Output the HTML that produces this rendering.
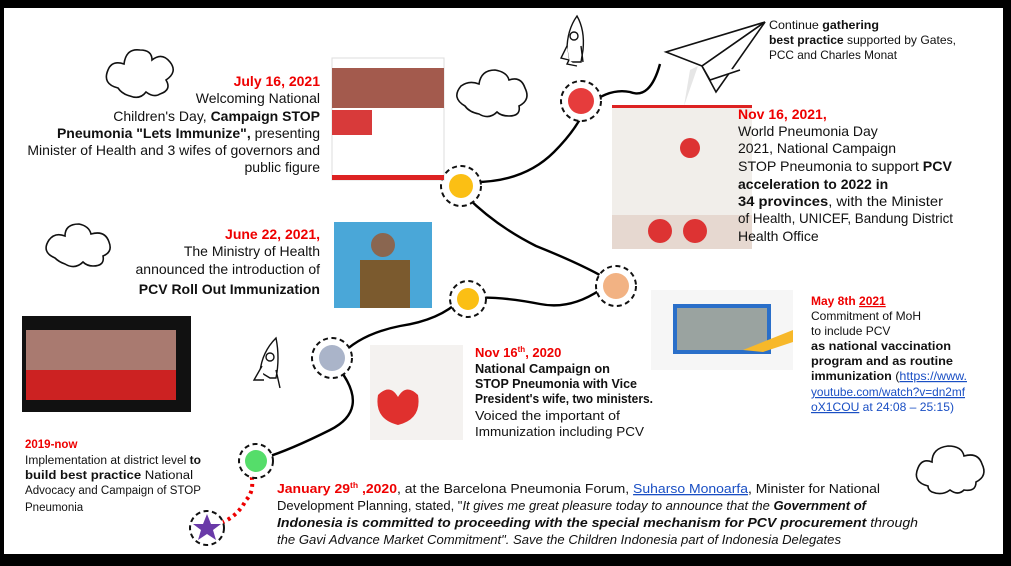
<!DOCTYPE html>
<html><head><meta charset="utf-8"><style>
html,body{margin:0;padding:0;background:#000;}
svg{display:block}
text{font-family:"Liberation Sans",sans-serif;}
</style></head><body>
<svg width="1011" height="566" viewBox="0 0 1011 566" xmlns="http://www.w3.org/2000/svg">
<rect x="0" y="0" width="1011" height="566" fill="#000"/>
<rect x="4" y="8" width="999" height="546" fill="#fff"/>

<!-- clouds -->
<g fill="#fff" stroke="#111" stroke-width="1.6">
<path d="M118 88 q-16 -4 -10 -18 q4 -10 16 -6 q2 -16 16 -14 q12 0 12 10 q10 -8 18 2 q8 10 -4 18 q6 10 -6 14 q-6 4 -14 -2 q-6 8 -16 4 q-8 -2 -12 -8z"/>
<path d="M465 106 q-14 -8 -4 -20 q8 -6 18 -2 q2 -14 16 -14 q12 2 14 10 q12 -4 16 8 q6 12 -6 18 q2 10 -10 10 q-8 0 -12 -4 q-8 8 -18 2 q-10 -2 -14 -8z"/>
<path d="M55 258 q-14 -6 -6 -18 q6 -8 16 -4 q0 -12 14 -12 q10 2 12 10 q14 -4 18 8 q4 10 -6 14 q2 10 -10 10 q-6 0 -10 -4 q-8 8 -18 2 q-6 -2 -10 -6z"/>
<path d="M928 486 q-16 -4 -10 -18 q4 -10 14 -6 q0 -14 16 -16 q14 0 16 10 q14 -4 18 8 q6 12 -6 18 q0 10 -12 8 q-6 6 -14 0 q-8 6 -18 2 q-4 -2 -4 -6z"/>
</g>

<!-- rockets -->
<g fill="#fff" stroke="#111" stroke-width="1.4">
<path d="M577 16 q-10 14 -10 34 l2 12 l12 0 l2 -12 q2 -20 -6 -34z"/>
<circle cx="574" cy="36" r="4"/>
<path d="M567 46 l-6 12 l8 2 M581 46 l2 16 M569 60 l-2 4 l10 2"/>
<path d="M276 338 q-14 14 -16 34 l10 6 l6 0 q4 -20 0 -40z"/>
<circle cx="270" cy="357" r="4"/>
<path d="M262 366 l-8 14 l10 0 M276 370 l4 18"/>
</g>

<!-- paper plane -->
<g fill="#fff" stroke="#111" stroke-width="1.6">
<path d="M765 22 L666 52 L702 66 Z"/>
<path d="M765 22 L702 66 L716 92 Z"/>
<path d="M702 66 L710 80 L740 70"/>
</g>
<path d="M690 70 l8 -4 l-14 40 z" fill="#e6e6e6"/>

<!-- path -->
<g fill="none" stroke="#000" stroke-width="2.4">
<path d="M660 64 q-10 36 -30 28 q-20 -4 -40 12"/>
<path d="M584 112 q-10 20 -30 40 q-30 30 -80 30"/>
<path d="M466 196 q30 30 70 50 q50 20 76 36"/>
<path d="M600 290 q-30 20 -60 14 q-40 -8 -70 -6"/>
<path d="M460 300 q-20 20 -60 26 q-40 8 -60 30"/>
<path d="M340 370 q30 40 -10 60 q-40 20 -66 28"/>
</g>
<path d="M250 470 q6 20 -4 30 q-10 20 -34 26" fill="none" stroke="#e00" stroke-width="4" stroke-dasharray="3 4"/>

<!-- nodes -->
<g stroke="#111" stroke-width="2" stroke-dasharray="5 3.5">
<circle cx="581" cy="101" r="20" fill="#fff"/><circle cx="461" cy="186" r="20" fill="#fff"/>
<circle cx="468" cy="299" r="18" fill="#fff"/><circle cx="616" cy="286" r="20" fill="#fff"/>
<circle cx="332" cy="358" r="20" fill="#fff"/><circle cx="256" cy="461" r="17" fill="#fff"/>
<circle cx="207" cy="528" r="17" fill="#fff"/>
</g>
<circle cx="581" cy="101" r="13" fill="#e63c3c"/>
<circle cx="461" cy="186" r="12" fill="#fbbf14"/>
<circle cx="468" cy="299" r="11" fill="#fbbf14"/>
<circle cx="616" cy="286" r="13" fill="#f2b283"/>
<circle cx="332" cy="358" r="13" fill="#aab4c9"/>
<circle cx="256" cy="461" r="11" fill="#55dd6a"/>
<polygon points="207,514 211,524 221,524 213,530 216,540 207,534 198,540 201,530 193,524 203,524" fill="#6a3aa8"/>

<!-- images -->
<rect x="332" y="58" width="112" height="122" fill="#fff" stroke="#ddd"/>
<rect x="332" y="68" width="112" height="40" fill="#a35a4d"/>
<rect x="332" y="110" width="40" height="25" fill="#d83a3a"/>
<rect x="332" y="175" width="112" height="5" fill="#d22"/>
<rect x="612" y="105" width="140" height="144" fill="#f1eeea"/>
<rect x="612" y="105" width="140" height="3" fill="#d22"/>
<rect x="612" y="215" width="140" height="34" fill="#e6d8d0"/>
<circle cx="690" cy="148" r="10" fill="#d33"/>
<circle cx="660" cy="231" r="12" fill="#d33"/><circle cx="695" cy="231" r="12" fill="#d33"/>
<rect x="334" y="222" width="98" height="86" fill="#4aa7d8"/>
<rect x="360" y="260" width="50" height="48" fill="#7b5a2e"/>
<circle cx="383" cy="245" r="12" fill="#8a6650"/>
<rect x="651" y="290" width="142" height="80" fill="#f6f6f6"/>
<rect x="673" y="304" width="98" height="50" fill="#2a6fc9"/>
<rect x="677" y="308" width="90" height="42" fill="#9aa3a0"/>
<path d="M743 350 l50 -20 l0 12 l-30 10z" fill="#f7b82a"/>
<rect x="22" y="316" width="169" height="96" fill="#111"/>
<rect x="26" y="330" width="150" height="70" fill="#a97a70"/>
<rect x="26" y="370" width="150" height="30" fill="#c22"/>
<rect x="370" y="345" width="93" height="95" fill="#f4f2f0"/>
<path d="M378 395 q12 -12 20 2 q8 -14 20 -2 q4 24 -20 30 q-24 -6 -20 -30z" fill="#e0302e"/>

<!-- texts -->
<g font-size="12" fill="#111">
<text x="769" y="29" textLength="110" lengthAdjust="spacingAndGlyphs">Continue <tspan font-weight="bold">gathering</tspan></text>
<text x="769" y="44" textLength="187" lengthAdjust="spacingAndGlyphs"><tspan font-weight="bold">best practice</tspan> supported by Gates,</text>
<text x="769" y="59" textLength="128" lengthAdjust="spacingAndGlyphs">PCC and Charles Monat</text>
</g>

<g font-size="14" fill="#111" text-anchor="end">
<text x="320" y="86" fill="#e00" font-weight="bold">July 16, 2021</text>
<text x="320" y="103">Welcoming National</text>
<text x="320" y="121">Children's Day,  <tspan font-weight="bold">Campaign STOP</tspan></text>
<text x="320" y="138"><tspan font-weight="bold">Pneumonia "Lets Immunize",</tspan> presenting</text>
<text x="320" y="155">Minister of Health and 3 wifes of governors  and</text>
<text x="320" y="172">public figure</text>
<text x="320" y="239" fill="#e00" font-weight="bold">June 22, 2021,</text>
<text x="320" y="256">The Ministry of Health</text>
<text x="320" y="274">announced the introduction  of</text>
<text x="320" y="294" font-weight="bold">PCV Roll Out Immunization</text>
</g>

<g font-size="14" fill="#111">
<text x="738" y="119" fill="#e00" font-weight="bold">Nov 16, 2021,</text>
<text x="738" y="136">World Pneumonia Day</text>
<text x="738" y="153">2021, National Campaign</text>
<text x="738" y="171" textLength="214" lengthAdjust="spacingAndGlyphs">STOP Pneumonia to support <tspan font-weight="bold">PCV</tspan></text>
<text x="738" y="189" font-weight="bold">acceleration to 2022 in</text>
<text x="738" y="206" textLength="205" lengthAdjust="spacingAndGlyphs"><tspan font-weight="bold">34 provinces</tspan>, with the Minister</text>
<text x="738" y="223" textLength="215" lengthAdjust="spacingAndGlyphs">of Health, UNICEF, Bandung District</text>
<text x="738" y="241">Health Office</text>
</g>

<g font-size="12" fill="#111">
<text x="811" y="305" fill="#e00" font-weight="bold">May 8th <tspan text-decoration="underline">2021</tspan></text>
<text x="811" y="320">Commitment of MoH</text>
<text x="811" y="335">to include PCV</text>
<text x="811" y="350" font-weight="bold" textLength="140" lengthAdjust="spacingAndGlyphs">as national vaccination</text>
<text x="811" y="365" font-weight="bold" textLength="142" lengthAdjust="spacingAndGlyphs">program and as routine</text>
<text x="811" y="380" textLength="156" lengthAdjust="spacingAndGlyphs"><tspan font-weight="bold">immunization</tspan> (<tspan fill="#1a4fc4" text-decoration="underline">https://www.</tspan></text>
<text x="811" y="396" fill="#1a4fc4" text-decoration="underline" textLength="154" lengthAdjust="spacingAndGlyphs">youtube.com/watch?v=dn2mf</text>
<text x="811" y="411" fill="#1a4fc4" textLength="143" lengthAdjust="spacingAndGlyphs"><tspan text-decoration="underline">oX1COU</tspan> at 24:08 – 25:15)</text>
</g>

<g font-size="13" fill="#111">
<text x="475" y="357" fill="#e00" font-weight="bold">Nov 16<tspan font-size="8" dy="-5">th</tspan><tspan dy="5">, 2020</tspan></text>
<text x="475" y="373" font-weight="bold" textLength="135" lengthAdjust="spacingAndGlyphs">National Campaign on</text>
<text x="475" y="388" font-weight="bold" textLength="162" lengthAdjust="spacingAndGlyphs">STOP Pneumonia with Vice</text>
<text x="475" y="403" font-weight="bold" textLength="178" lengthAdjust="spacingAndGlyphs">President's wife, two ministers.</text>
<text x="475" y="420" textLength="145" lengthAdjust="spacingAndGlyphs">Voiced the important of</text>
<text x="475" y="436" textLength="169" lengthAdjust="spacingAndGlyphs">Immunization including PCV</text>
</g>

<g font-size="11.5" fill="#111">
<text x="25" y="448" fill="#e00" font-weight="bold">2019-now</text>
<text x="25" y="464" textLength="176" lengthAdjust="spacingAndGlyphs">Implementation at district level <tspan font-weight="bold">to</tspan></text>
<text x="25" y="479" textLength="168" lengthAdjust="spacingAndGlyphs"><tspan font-weight="bold">build best practice</tspan> National</text>
<text x="25" y="494" textLength="176" lengthAdjust="spacingAndGlyphs">Advocacy and Campaign of STOP</text>
<text x="25" y="511">Pneumonia</text>
</g>

<g font-size="13" fill="#111">
<text x="277" y="493" textLength="603" lengthAdjust="spacingAndGlyphs"><tspan fill="#e00" font-weight="bold">January 29<tspan font-size="8" dy="-5">th</tspan><tspan dy="5"> ,2020</tspan></tspan>, at the Barcelona Pneumonia Forum, <tspan fill="#1a4fc4" text-decoration="underline">Suharso Monoarfa</tspan>, Minister for National</text>
<text x="277" y="510" textLength="589" lengthAdjust="spacingAndGlyphs">Development Planning, stated, "<tspan font-style="italic">It gives me great pleasure today to announce that the </tspan><tspan font-style="italic" font-weight="bold">Government of</tspan></text>
<text x="277" y="527" textLength="641" lengthAdjust="spacingAndGlyphs" font-style="italic"><tspan font-weight="bold">Indonesia is committed to proceeding with the special mechanism for PCV procurement</tspan> through</text>
<text x="277" y="544" textLength="564" lengthAdjust="spacingAndGlyphs" font-style="italic">the Gavi Advance Market Commitment". Save the Children Indonesia part of Indonesia Delegates</text>
</g>
</svg>
</body></html>
